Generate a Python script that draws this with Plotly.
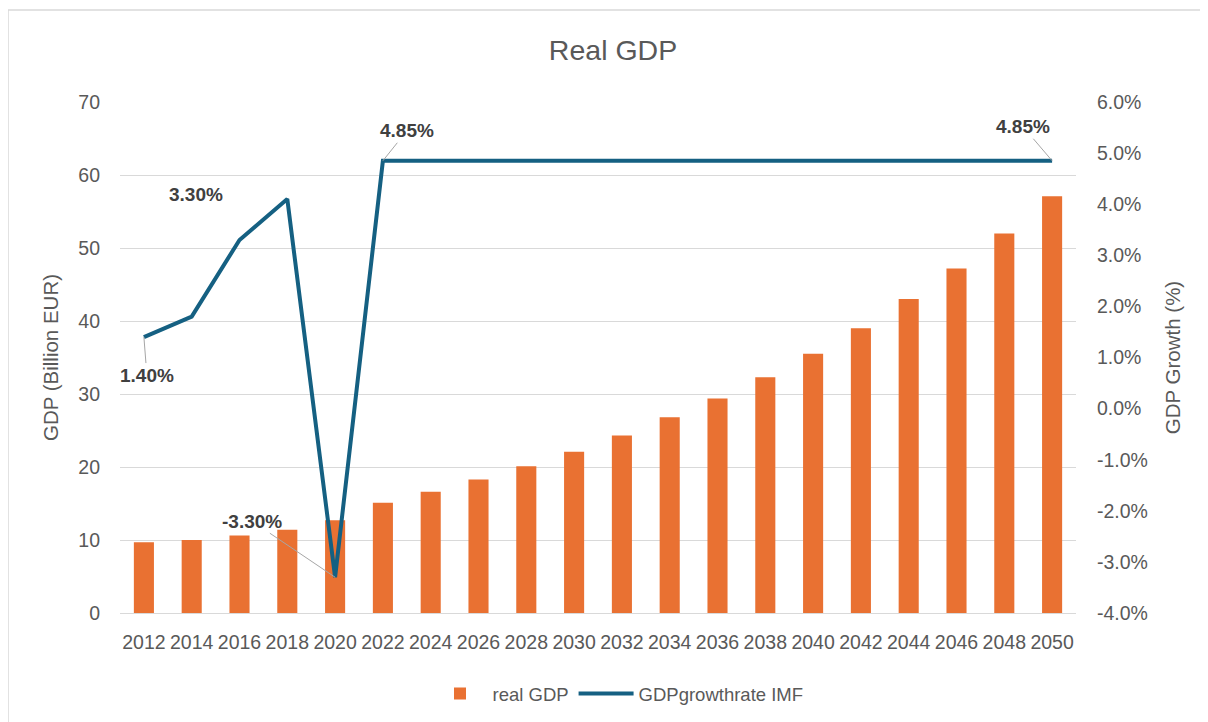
import plotly.graph_objects as go

years = [str(y) for y in range(2012, 2051, 2)]
real_gdp = [9.7, 10.0, 10.6, 11.4, 12.7, 15.1, 16.6, 18.3, 20.1, 22.1,
            24.3, 26.8, 29.4, 32.3, 35.5, 39.0, 43.0, 47.2, 52.0, 57.1]
growth = [0.014, 0.018, 0.033, 0.041, -0.033] + [0.0485] * 15
growth_ticks = [-0.04, -0.03, -0.02, -0.01, 0.0, 0.01, 0.02, 0.03, 0.04, 0.05, 0.06]
growth_ticktext = ["{:.1f}%".format(v * 100) for v in growth_ticks]

FONT = "Liberation Sans, Arial, sans-serif"
GREY = "#595959"
ORANGE = "#E97132"
BLUE = "#156082"

# page body has an 8px margin: plot area at x 112..1068, y 94..605 in figure coords
W, H = 1200, 714
L, R, T, B = 112, 1068, 94, 605
PW, PH = R - L, B - T

fig = go.Figure()
fig.add_trace(go.Bar(x=years, y=real_gdp, name="real GDP",
                     marker=dict(color=ORANGE, line=dict(width=0)), yaxis="y"))
fig.add_trace(go.Scatter(x=years, y=growth, name="GDPgrowthrate IMF", mode="lines",
                         line=dict(color=BLUE, width=4), yaxis="y2"))

# data labels: (index, ax, ay, showleader)
label_specs = [(0, 3, 38, True), (2, -44, -45, False), (4, -83, -56, True),
               (5, 24, -30, True), (19, -29, -34, True)]
for i, ax, ay, lead in label_specs:
    txt = "<b>{:.2f}%</b>".format(growth[i] * 100)
    if lead:
        fig.add_annotation(x=i, y=growth[i], xref="x", yref="y2", text=txt,
                           showarrow=True, ax=ax, ay=ay, arrowhead=0, arrowwidth=1,
                           arrowcolor="#a6a6a6", standoff=0,
                           font=dict(family=FONT, size=19, color="#404040"))
    else:
        fig.add_annotation(x=i, y=growth[i], xref="x", yref="y2", text=txt,
                           showarrow=False, xshift=ax, yshift=-ay,
                           font=dict(family=FONT, size=19, color="#404040"))

# outer chart border
fig.add_shape(type="rect", xref="paper", yref="paper",
              x0=(0 - L) / PW, x1=(1230 - L) / PW, y0=(B - 740) / PH, y1=(B - 2) / PH,
              line=dict(color="#d9d9d9", width=1.5), fillcolor="rgba(0,0,0,0)", layer="below")

fig.update_layout(
    width=W, height=H,
    margin=dict(l=L, r=W - R, t=T, b=H - B, autoexpand=False),
    paper_bgcolor="white", plot_bgcolor="white",
    font=dict(family=FONT, size=19, color=GREY),
    title=dict(text="Real GDP", x=605 / W, xanchor="center", y=1 - 42 / H,
               yanchor="middle", font=dict(size=28.5, color=GREY)),
    bargap=0.58,
    xaxis=dict(type="category", range=[-0.5, len(years) - 0.5], showgrid=False,
               showline=False, ticks="", ticklabelstandoff=15,
               tickfont=dict(size=19.5, color=GREY)),
    yaxis=dict(range=[0, 70], dtick=10, showgrid=True, gridcolor="#d9d9d9", gridwidth=1,
               zeroline=True, zerolinecolor="#d9d9d9", zerolinewidth=1,
               showline=False, ticks="", ticklabelstandoff=19,
               tickfont=dict(size=19.5, color=GREY),
               title=dict(text="GDP (Billion EUR)", standoff=14, font=dict(size=20.5, color=GREY))),
    yaxis2=dict(range=[-0.04, 0.06], tickvals=growth_ticks, ticktext=growth_ticktext,
                overlaying="y", side="right",
                showgrid=False, zeroline=False, showline=False, ticks="",
                ticklabelstandoff=20, tickfont=dict(size=19.5, color=GREY),
                title=dict(text="GDP Growth (%)", standoff=18, font=dict(size=20.5, color=GREY))),
    legend=dict(orientation="h", x=(610 - L) / PW, xanchor="center",
                y=(B - 686) / PH, yanchor="middle", itemwidth=55,
                font=dict(size=18.5, color=GREY), bgcolor="rgba(0,0,0,0)"),
    showlegend=True,
)

fig.write_html("out.html")
